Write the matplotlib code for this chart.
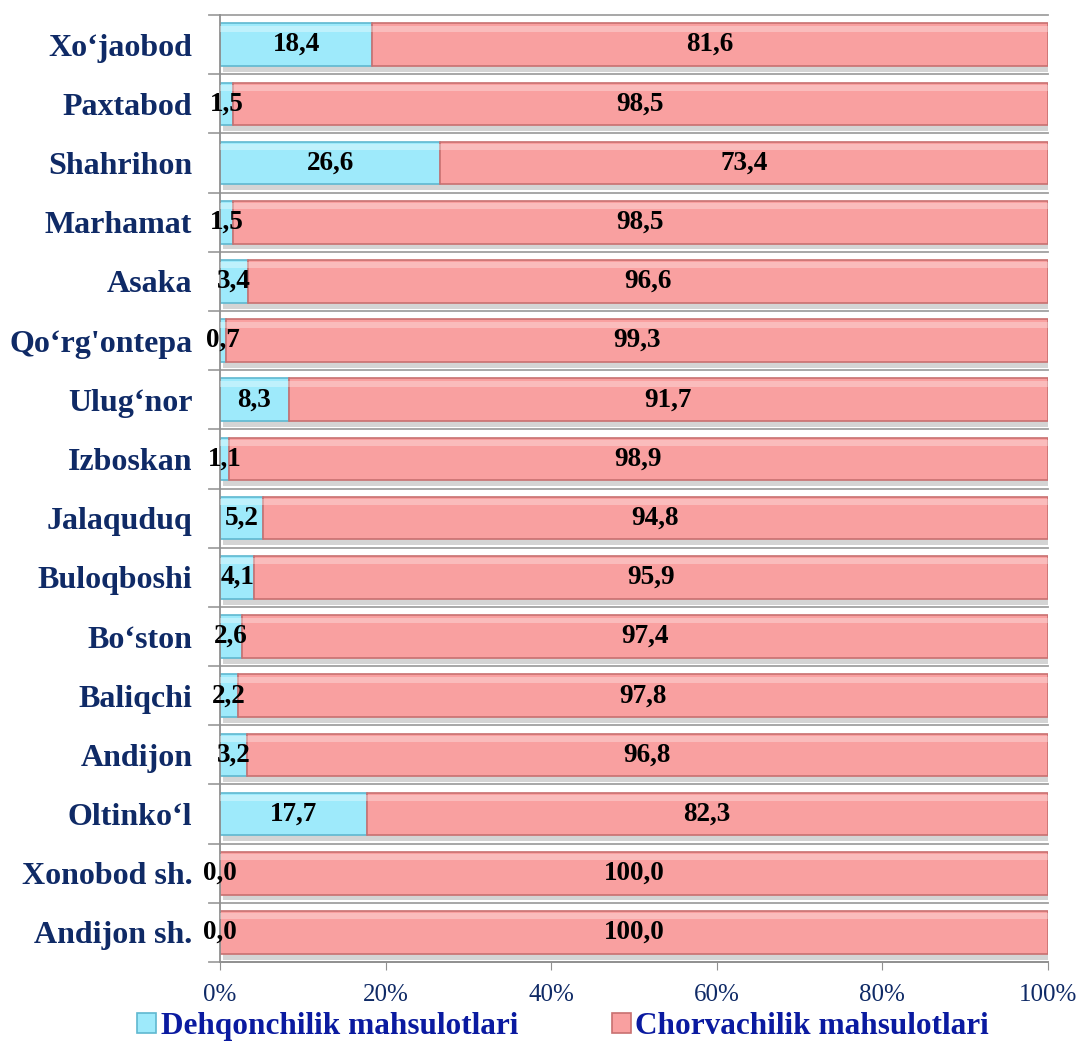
import numpy as np
import matplotlib.pyplot as plt

# -----------------------
# Dados (de cima para baixo)
# -----------------------
districts = ["Xo‘jaobod", "Paxtabod", "Shahrihon", "Marhamat", "Asaka",
             "Qo‘rg'ontepa", "Ulug‘nor", "Izboskan", "Jalaquduq", "Buloqboshi",
             "Bo‘ston", "Baliqchi", "Andijon", "Oltinko‘l", "Xonobod sh.", "Andijon sh."]
dehqon = [18.4, 1.5, 26.6, 1.5, 3.4, 0.7, 8.3, 1.1, 5.2, 4.1, 2.6, 2.2, 3.2, 17.7, 0.0, 0.0]
chorva = [81.6, 98.5, 73.4, 98.5, 96.6, 99.3, 91.7, 98.9, 94.8, 95.9, 97.4, 97.8, 96.8, 82.3, 100.0, 100.0]
series_names = ["Dehqonchilik mahsulotlari", "Chorvachilik mahsulotlari"]

plt.rcParams['font.family'] = ['Liberation Serif', 'DejaVu Serif']

blue = "#9eeafb"
blue_edge = "#5fb8d0"
red = "#f9a0a0"
red_edge = "#c87070"
navy = "#0f2a66"

fig = plt.figure(figsize=(10.79, 10.45), dpi=100)
ax = fig.add_axes([0.204, 0.0794, 0.767, 0.9062])

n = len(districts)
y = np.arange(n)[::-1]
h = 0.72

# sombra
ax.barh(y - 0.1, np.array(dehqon) + np.array(chorva), height=h, left=0.3,
        color="#b8b8b8", alpha=0.6, zorder=1, linewidth=0)
b1 = ax.barh(y, dehqon, height=h, color=blue, edgecolor=blue_edge, linewidth=1.2, zorder=2)
b2 = ax.barh(y, chorva, height=h, left=dehqon, color=red, edgecolor=red_edge, linewidth=1.2, zorder=2)

# brilho no topo
for yi, d, c in zip(y, dehqon, chorva):
    ax.barh(yi + h / 2 - 0.09, d, height=0.1, color="white", alpha=0.35, zorder=3, linewidth=0)
    ax.barh(yi + h / 2 - 0.09, c, left=d, height=0.1, color="white", alpha=0.3, zorder=3, linewidth=0)

for yi, d, c in zip(y, dehqon, chorva):
    ax.text(d / 2, yi, f"{d:.1f}".replace(".", ","), ha="center", va="center",
            fontsize=19.5, fontweight="bold", color="black", zorder=5)
    ax.text(d + c / 2, yi, f"{c:.1f}".replace(".", ","), ha="center", va="center",
            fontsize=19.5, fontweight="bold", color="black", zorder=5)

ax.set_xlim(0, 100)
ax.set_ylim(-0.5, n - 0.5)

# linhas horizontais entre categorias
for b in np.arange(-0.5, n, 1.0):
    ax.plot([-1.3, 100], [b, b], color="#a0a0a0", lw=1.3, clip_on=False, zorder=0)

ax.set_yticks(y)
ax.set_yticklabels(districts, fontsize=23, fontweight="bold", color=navy)
ax.tick_params(axis="y", length=0, pad=20)
ax.set_xticks(np.arange(0, 101, 20))
ax.set_xticklabels([f"{v}%" for v in range(0, 101, 20)], fontsize=18, color=navy)
ax.tick_params(axis="x", length=6, color="#909090", pad=10)

for s in ["top", "right"]:
    ax.spines[s].set_visible(False)
ax.spines["left"].set_color("#909090")
ax.spines["bottom"].set_color("#909090")
ax.spines["left"].set_linewidth(1.3)
ax.spines["bottom"].set_linewidth(1.3)

leg = fig.legend([b1, b2], series_names, loc="center", bbox_to_anchor=(0.522, 0.018),
                 ncol=2, frameon=False, handlelength=0.6, handleheight=0.6,
                 handletextpad=0.15, columnspacing=3.0, borderpad=0.0,
                 prop={"weight": "bold", "size": 22.5})
for t in leg.get_texts():
    t.set_color("#0a1aa0")

plt.savefig("out.png", dpi=100)
